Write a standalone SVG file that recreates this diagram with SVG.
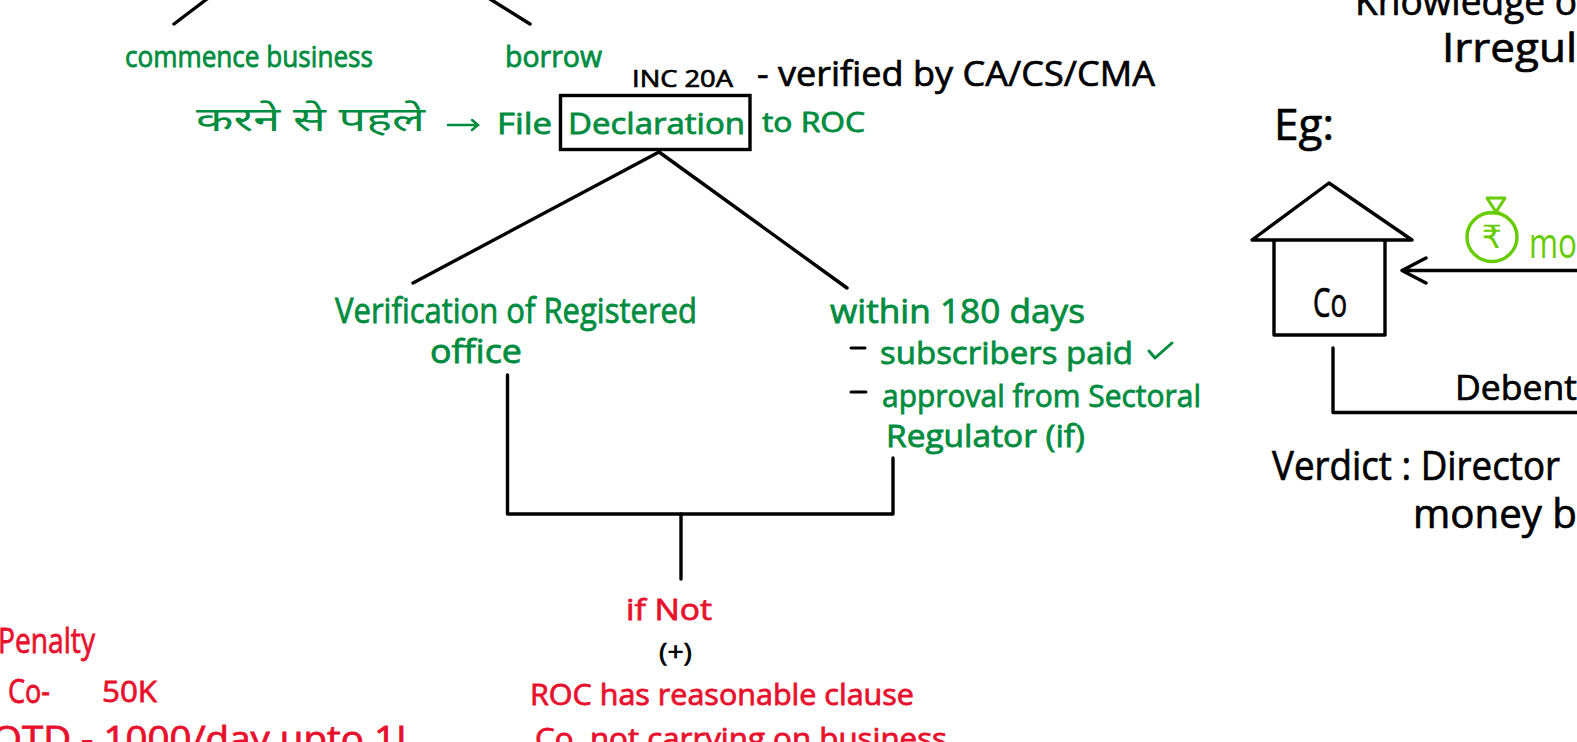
<svg xmlns="http://www.w3.org/2000/svg" width="1577" height="742" viewBox="0 0 1577 742">
<style>
text{font-family:"Open Sans","Noto Sans","Noto Sans CJK SC",sans-serif;font-weight:400}
.g{fill:#008c3f;stroke:#008c3f;stroke-width:.8}
.r{fill:#e8112d;stroke:#e8112d;stroke-width:.8}
.k{fill:#000;stroke:#000;stroke-width:.7}
.l{fill:#66cc00}
.s{fill:none;stroke:#000;stroke-width:3.400;stroke-linecap:round;stroke-linejoin:round}
.dev{font-family:"Noto Sans","Noto Sans Devanagari","DejaVu Sans",sans-serif;stroke:none}
</style>
<rect width="1577" height="742" fill="#fff"/>
<g id="connectors">
<path class="s" d="M174 24L207-1"/>
<path class="s" d="M530 24L490-1"/>
<path class="s" d="M659 152L413 283"/>
<path class="s" d="M659 152L847 288"/>
<path class="s" d="M507.500 375V514H893V458"/>
<path class="s" d="M681 514V579"/>
<path class="s" d="M1577 270.500H1402M1426 258L1402 270.500L1426 283"/>
<path class="s" d="M1333 348V412.500H1577"/>
</g>
<g id="node-commence"><text class="g" x="125" y="67" font-size="29" textLength="248" lengthAdjust="spacingAndGlyphs">commence business</text></g>
<g id="node-borrow"><text class="g" x="505" y="67" font-size="29" textLength="97" lengthAdjust="spacingAndGlyphs">borrow</text></g>
<g id="node-inc"><text class="k" x="632" y="87" font-size="23" textLength="101" lengthAdjust="spacingAndGlyphs">INC 20A</text></g>
<g id="node-verified"><text class="k" x="757" y="86" font-size="35" textLength="398" lengthAdjust="spacingAndGlyphs">- verified by CA/CS/CMA</text></g>
<g id="node-before"><text class="g dev" x="196" y="131" font-size="33" textLength="229" lengthAdjust="spacingAndGlyphs">करने से पहले</text>
<path d="M448 125H477M472 120L478 125L472 130" fill="none" stroke="#008c3f" stroke-width="2.500" stroke-linecap="round"/></g>
<g id="node-file"><text class="g" x="497" y="134" font-size="29" textLength="55" lengthAdjust="spacingAndGlyphs">File</text></g>
<g id="node-declaration"><rect x="560.500" y="95.500" width="189.500" height="54" fill="none" stroke="#000" stroke-width="3.400"/>
<text class="g" x="568" y="134" font-size="30" textLength="177" lengthAdjust="spacingAndGlyphs">Declaration</text></g>
<g id="node-roc"><text class="g" x="762" y="132" font-size="27" textLength="103" lengthAdjust="spacingAndGlyphs">to ROC</text></g>
<g id="node-verification"><text class="g" x="335" y="323" font-size="35" textLength="362" lengthAdjust="spacingAndGlyphs">Verification of Registered</text>
<text class="g" x="430" y="363" font-size="33" textLength="92" lengthAdjust="spacingAndGlyphs">office</text></g>
<g id="node-within"><text class="g" x="830" y="323" font-size="33" textLength="255" lengthAdjust="spacingAndGlyphs">within 180 days</text>
<path d="M851 348H865M851 392H866" stroke="#000" stroke-width="3" stroke-linecap="round"/>
<text class="g" x="880" y="364" font-size="31" textLength="253" lengthAdjust="spacingAndGlyphs">subscribers paid</text>
<path d="M1149 351L1155 358L1172 343" fill="none" stroke="#008c3f" stroke-width="3" stroke-linecap="round" stroke-linejoin="round"/>
<text class="g" x="882" y="407" font-size="31" textLength="319" lengthAdjust="spacingAndGlyphs">approval from Sectoral</text>
<text class="g" x="886" y="447" font-size="31" textLength="199" lengthAdjust="spacingAndGlyphs">Regulator (if)</text></g>
<g id="node-ifnot"><text class="r" x="626" y="620" font-size="30" textLength="86" lengthAdjust="spacingAndGlyphs">if Not</text></g>
<g id="node-plus"><text class="k" x="659" y="661" font-size="25" textLength="33" lengthAdjust="spacingAndGlyphs">(+)</text></g>
<g id="node-roc-clause"><text class="r" x="530" y="705" font-size="29" textLength="384" lengthAdjust="spacingAndGlyphs">ROC has reasonable clause</text>
<text class="r" x="535" y="749" font-size="29" textLength="412" lengthAdjust="spacingAndGlyphs">Co. not carrying on business</text></g>
<g id="node-penalty"><text class="r" x="-2" y="653" font-size="35" textLength="97" lengthAdjust="spacingAndGlyphs">Penalty</text>
<text class="r" x="8" y="703" font-size="33" textLength="42" lengthAdjust="spacingAndGlyphs">Co-</text>
<text class="r" x="102" y="702" font-size="30" textLength="55" lengthAdjust="spacingAndGlyphs">50K</text>
<text class="r" x="-8" y="751" font-size="34" textLength="424" lengthAdjust="spacingAndGlyphs">OTD - 1000/day upto 1L</text></g>
<g id="node-knowledge"><text class="k" x="1355" y="15" font-size="38" textLength="222" lengthAdjust="spacingAndGlyphs">Knowledge o</text></g>
<g id="node-irregular"><text class="k" x="1442" y="62" font-size="40" textLength="135" lengthAdjust="spacingAndGlyphs">Irregul</text></g>
<g id="node-eg"><text class="k" x="1274" y="140" font-size="44" textLength="60" lengthAdjust="spacingAndGlyphs">Eg:</text></g>
<g id="node-co"><path class="s" d="M1252 240L1329 183L1412 240ZM1274 240V335H1385V240"/>
<text class="k" x="1313" y="317" font-size="40" textLength="34" lengthAdjust="spacingAndGlyphs">Co</text></g>
<g id="node-money"><ellipse cx="1492" cy="237" rx="25" ry="24.500" fill="none" stroke="#66cc00" stroke-width="3.400"/>
<path d="M1487 198H1505L1496 212ZM1491 213H1500" fill="none" stroke="#66cc00" stroke-width="3" stroke-linejoin="round" stroke-linecap="round"/>
<text class="l" x="1492" y="248" font-size="32" text-anchor="middle" style="font-family:'DejaVu Sans',sans-serif">₹</text>
<text class="l" x="1529" y="258" font-size="42" textLength="48" lengthAdjust="spacingAndGlyphs">mo</text></g>
<g id="node-debenture"><text class="k" x="1455" y="400" font-size="34" textLength="122" lengthAdjust="spacingAndGlyphs">Debent</text></g>
<g id="node-verdict"><text class="k" x="1272" y="480" font-size="40" textLength="288" lengthAdjust="spacingAndGlyphs">Verdict : Director</text>
<text class="k" x="1413" y="528" font-size="40" textLength="164" lengthAdjust="spacingAndGlyphs">money b</text></g>
</svg>
